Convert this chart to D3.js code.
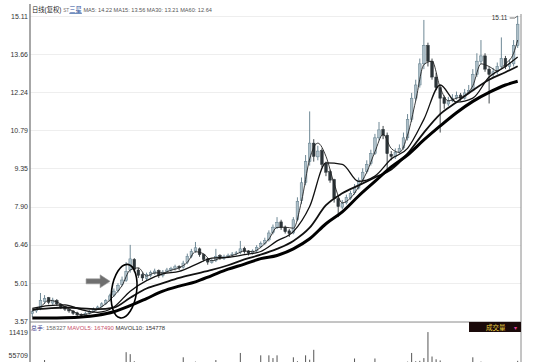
<!DOCTYPE html>
<html lang="zh">
<head>
<meta charset="UTF-8">
<title>ST三星 日线(复权)</title>
<script src="https://d3js.org/d3.v7.min.js"></script>
<style>
  body { margin: 0; background: #fff; }
  svg { display: block; font-family: "Liberation Sans", Arial, "Noto Sans CJK SC", sans-serif; }
  .grid line { stroke: #eeeeee; }
  .frame { stroke: #8a8a8a; }
  .y-axis text { font-size: 7px; fill: #333; }
</style>
</head>
<body>
<div id="chart"></div>
<script>
// daily candles, left to right
const opens = [3.85,3.95,4.05,4.30,4.45,4.25,4.35,4.20,4.12,4.00,3.95,3.88,3.82,3.78,3.88,3.94,4.04,4.12,4.24,4.36,
  4.55,4.72,4.95,5.10,5.50,5.90,5.50,5.32,5.18,5.30,5.38,5.48,5.30,5.44,5.50,5.56,5.64,5.60,5.78,6.02,
  6.22,6.30,6.08,5.92,5.78,5.85,6.05,5.94,6.00,6.08,6.12,6.16,6.32,6.22,6.12,6.22,6.38,6.50,6.64,6.92,
  7.10,7.32,7.12,6.98,6.90,7.42,8.12,8.82,9.60,10.30,9.78,10.02,9.52,9.22,8.92,8.20,7.88,8.04,8.22,8.42,
  8.60,8.92,9.22,9.52,9.90,10.50,10.82,10.60,9.88,9.78,9.96,10.12,10.50,11.20,12.00,12.50,13.30,14.00,13.40,12.80,
  12.40,12.02,11.78,11.92,12.02,12.12,12.00,12.22,12.30,12.90,13.40,13.60,13.10,12.90,13.00,13.20,13.50,13.20,13.30,14.00];
const highs = [4.00,4.10,4.63,4.55,4.48,4.45,4.40,4.25,4.15,4.05,3.98,3.92,3.86,3.92,3.98,4.08,4.15,4.28,4.40,4.60,
  4.80,5.00,5.25,5.80,6.45,5.95,5.58,5.40,5.40,5.48,5.55,5.52,5.50,5.58,5.62,5.70,5.68,5.85,6.12,6.30,
  6.56,6.35,6.12,5.95,5.92,6.30,6.10,6.08,6.12,6.18,6.22,6.60,6.38,6.25,6.28,6.44,6.58,6.72,7.00,7.22,
  7.50,7.40,7.18,7.05,7.50,8.25,9.00,9.85,11.50,10.45,10.20,10.10,9.60,9.30,8.95,8.30,8.15,8.35,8.50,8.75,
  9.00,9.35,9.65,10.05,10.65,11.10,10.95,10.70,10.00,10.10,10.25,10.70,11.40,12.20,12.70,13.50,14.96,14.10,13.50,12.95,
  12.50,12.10,12.05,12.15,12.25,12.20,12.35,12.50,13.10,13.70,14.20,13.70,13.20,13.15,13.35,14.30,13.60,13.45,14.20,15.11];
const lows = [3.72,3.88,3.98,4.22,4.20,4.18,4.15,4.02,3.95,3.88,3.80,3.72,3.70,3.74,3.82,3.90,3.98,4.08,4.18,4.30,
  4.48,4.65,4.88,5.05,5.40,5.42,5.20,5.08,5.10,5.22,5.32,5.20,5.22,5.38,5.42,5.48,5.50,5.55,5.72,5.95,
  6.15,6.00,5.82,5.70,5.74,5.80,5.88,5.88,5.95,6.00,6.05,6.10,6.12,6.05,6.08,6.15,6.32,6.45,6.58,6.85,
  7.05,7.02,6.88,6.75,6.85,7.35,8.00,8.70,9.45,9.60,9.65,9.40,9.05,8.80,8.05,7.50,7.80,7.98,8.15,8.35,
  8.55,8.85,9.15,9.45,9.85,10.40,10.45,9.30,9.65,9.70,9.90,10.05,10.40,11.10,11.90,12.40,13.10,13.20,12.70,12.30,
  10.70,11.60,11.70,11.85,11.95,11.90,11.95,12.15,12.25,12.80,13.30,13.00,11.80,12.80,12.90,13.10,13.10,13.10,13.20,13.90];
const closes = [3.92,4.02,4.35,4.42,4.28,4.36,4.22,4.10,4.02,3.95,3.86,3.80,3.78,3.86,3.92,4.02,4.10,4.22,4.34,4.52,
  4.70,4.92,5.12,5.45,5.92,5.52,5.30,5.20,5.32,5.40,5.46,5.30,5.42,5.50,5.55,5.62,5.58,5.76,6.02,6.20,
  6.34,6.08,5.90,5.80,5.86,6.02,5.95,6.00,6.06,6.10,6.15,6.30,6.20,6.14,6.22,6.36,6.50,6.62,6.90,7.12,
  7.30,7.10,6.95,6.88,7.40,8.10,8.80,9.60,10.30,9.80,10.00,9.50,9.20,8.90,8.20,7.90,8.02,8.24,8.40,8.62,
  8.90,9.20,9.50,9.90,10.50,10.80,10.60,9.90,9.80,9.95,10.10,10.50,11.20,12.00,12.50,13.30,14.00,13.40,12.80,12.40,
  12.00,11.80,11.90,12.00,12.10,12.00,12.20,12.30,12.90,13.40,13.60,13.10,12.90,13.00,13.20,13.50,13.20,13.30,14.00,14.80];
const volumes = [22000,26000,35000,43000,30000,24000,21000,19000,18000,17000,16000,15000,17000,19000,21000,23000,26000,28000,31000,34000,
  36000,35000,37000,63000,58000,40000,32000,27000,25000,24000,26000,23000,25000,27000,26000,28000,30000,50000,36000,34000,
  39000,33000,28000,25000,27000,43000,29000,26000,28000,30000,33000,61000,34000,28000,30000,36000,55000,38000,55000,48000,
  55000,36000,31000,33000,50000,40000,37000,55000,44000,69000,37000,33000,31000,29000,35000,37000,30000,28000,32000,47000,
  34000,33000,36000,37000,47000,38000,35000,36000,31000,29000,32000,36000,39000,61000,40000,41000,48000,114000,52000,45000,
  42000,33000,30000,28000,27000,26000,29000,32000,50000,37000,39000,34000,32000,30000,31000,36000,33000,34000,37000,41000];

// moving averages, read at every 4th candle
const maIndex = [0,4,8,12,16,20,24,28,32,36,40,44,48,52,56,60,64,68,72,76,80,84,88,92,96,100,104,108,112,116,119];
const ma15 = [4.05,4.15,4.18,4.00,3.90,4.10,4.70,5.10,5.35,5.45,5.70,5.95,5.98,6.08,6.20,6.60,6.95,7.90,9.55,9.50,
  8.85,9.05,9.70,10.10,11.20,12.50,11.85,12.00,12.80,13.20,13.56];
const ma30 = [4.00,4.05,4.08,4.05,4.02,4.08,4.45,4.80,5.00,5.20,5.35,5.50,5.68,5.90,6.08,6.30,6.60,7.10,7.95,8.40,
  8.70,9.00,9.30,9.90,10.70,11.40,11.85,12.30,12.70,12.98,13.21];
const ma60 = [3.68,3.68,3.69,3.72,3.79,3.92,4.15,4.42,4.70,4.89,5.05,5.29,5.53,5.72,5.93,6.05,6.30,6.68,7.25,7.70,
  8.30,8.85,9.40,9.85,10.42,10.95,11.45,11.88,12.22,12.50,12.64];
// MA5, read at every 2nd candle
const ma5Index = [0,2,4,6,8,10,12,14,16,18,20,22,24,26,28,30,32,34,36,38,40,42,44,46,48,50,52,54,56,58,
  60,62,64,66,68,70,72,74,76,78,80,82,84,86,88,90,92,94,96,98,100,102,104,106,108,110,112,114,116,118,119];
const ma5 = [3.95,4.10,4.35,4.29,4.11,3.94,3.81,3.85,4.01,4.22,4.52,4.91,5.50,5.58,5.27,5.39,5.39,5.49,5.58,5.79,
  6.19,6.11,5.85,5.94,6.00,6.10,6.22,6.19,6.36,6.67,7.11,7.12,7.08,8.10,9.70,10.30,9.80,8.77,8.04,8.22,
  8.64,9.20,9.97,10.63,10.10,9.95,10.60,11.90,13.27,13.40,12.40,11.90,12.00,12.10,12.47,13.30,13.20,13.03,13.30,13.70,14.20];

const priceTicks = [3.57, 5.01, 6.46, 7.90, 9.35, 10.79, 12.24, 13.66, 15.11];
const volTickLabels = [["11419", 114190], ["55709", 55709]];

const width = 550, height = 362;
const left = 30, right = 521, priceBottom = 322;

const svg = d3.select("#chart").append("svg")
  .attr("width", width)
  .attr("height", height);

const x = d3.scaleBand().domain(d3.range(closes.length)).range([left + 1, right - 2]).paddingInner(0.35);
const xc = i => x(i) + x.bandwidth() / 2;
const y = d3.scaleLinear().domain([3.57, 15.11]).range([321, 16]);
const yVol = d3.scaleLinear().domain([0, 114190]).range([377, 332]);

// grid
svg.append("g").attr("class", "grid")
  .selectAll("line").data(priceTicks.slice(1)).join("line")
  .attr("x1", left).attr("x2", right)
  .attr("y1", d => Math.round(y(d)) + 0.5).attr("y2", d => Math.round(y(d)) + 0.5);

// price axis labels
const yAxis = svg.append("g").attr("class", "y-axis")
  .attr("transform", `translate(${left - 1},0)`)
  .call(d3.axisLeft(y).tickValues(priceTicks).tickSize(0).tickPadding(1).tickFormat(d3.format(".2f")));
yAxis.select(".domain").remove();

// candles
const candles = svg.append("g").selectAll("g").data(closes.map((c, i) => i)).join("g");
candles.append("line")
  .attr("x1", i => xc(i)).attr("x2", i => xc(i))
  .attr("y1", i => y(highs[i])).attr("y2", i => y(lows[i]))
  .attr("stroke", i => closes[i] >= opens[i] ? "#5f7c8a" : "#2c3438")
  .attr("stroke-width", 0.9);
candles.append("rect")
  .attr("x", i => x(i))
  .attr("width", x.bandwidth())
  .attr("y", i => y(Math.max(opens[i], closes[i])))
  .attr("height", i => Math.max(0.8, Math.abs(y(opens[i]) - y(closes[i]))))
  .attr("fill", i => closes[i] >= opens[i] ? "#aebfc8" : "#2c3438")
  .attr("stroke", i => closes[i] >= opens[i] ? "#5f7c8a" : "#2c3438")
  .attr("stroke-width", 0.5);

// moving average lines
const maLine = (idx) => d3.line()
  .x((d, k) => xc(idx[k]))
  .y(d => y(d))
  .curve(d3.curveMonotoneX);

svg.append("path").datum(ma5).attr("d", maLine(ma5Index))
  .attr("fill", "none").attr("stroke", "#222").attr("stroke-width", 0.9);
svg.append("path").datum(ma15).attr("d", maLine(maIndex))
  .attr("fill", "none").attr("stroke", "#111").attr("stroke-width", 1.3);
svg.append("path").datum(ma30).attr("d", maLine(maIndex))
  .attr("fill", "none").attr("stroke", "#111").attr("stroke-width", 1.8);
svg.append("path").datum(ma60).attr("d", maLine(maIndex))
  .attr("fill", "none").attr("stroke", "#000").attr("stroke-width", 3);

// annotation: ellipse around the breakout, arrow pointing at it
const ex = xc(22) + x.step() / 2, ey = y(4.7);
svg.append("ellipse")
  .attr("cx", ex).attr("cy", ey).attr("rx", 12.5).attr("ry", 27)
  .attr("transform", `rotate(8,${ex},${ey})`)
  .attr("fill", "none").attr("stroke", "#000").attr("stroke-width", 1.6);
const ay = y(5.07), tip = ex - 14;
svg.append("path")
  .attr("d", `M${tip - 24},${ay - 2.5}L${tip - 10},${ay - 2.5}L${tip - 10},${ay - 6.5}L${tip},${ay}L${tip - 10},${ay + 6.5}L${tip - 10},${ay + 2.5}L${tip - 24},${ay + 2.5}Z`)
  .attr("fill", "#6f6f6f").attr("stroke", "#999").attr("stroke-width", 0.6);

// high marker
svg.append("text").attr("x", xc(119) - 26).attr("y", y(15.11) + 4)
  .attr("font-size", 6.5).attr("fill", "#333").text("15.11");
svg.append("path")
  .attr("d", `M${xc(119) - 8},${y(15.11) + 2}L${xc(119) - 3},${y(15.11) + 2}L${xc(119)},${y(15.11)}`)
  .attr("fill", "none").attr("stroke", "#333").attr("stroke-width", 0.7);

// volume bars
svg.append("g").selectAll("rect").data(volumes).join("rect")
  .attr("x", (d, i) => xc(i) - 0.5)
  .attr("width", 1)
  .attr("y", d => yVol(d))
  .attr("height", d => yVol(0) - yVol(d))
  .attr("fill", "#555");

svg.append("g").selectAll("text").data(volTickLabels).join("text")
  .attr("x", left - 2).attr("y", d => yVol(d[1]) + 2.5)
  .attr("text-anchor", "end").attr("font-size", 7).attr("fill", "#333")
  .text(d => d[0]);

// frame
svg.append("line").attr("class", "frame").attr("x1", left).attr("x2", left).attr("y1", 4).attr("y2", height).attr("stroke-width", 1.5);
svg.append("line").attr("class", "frame").attr("x1", right).attr("x2", right).attr("y1", 14).attr("y2", height);
svg.append("line").attr("class", "frame").attr("x1", left).attr("x2", right).attr("y1", priceBottom).attr("y2", priceBottom);

// headers
const head = svg.append("text").attr("x", left + 2).attr("y", 12).attr("font-size", 5.6);
head.append("tspan").attr("fill", "#222").attr("font-size", 6.3).text("日线(复权) ");
head.append("tspan").attr("fill", "#777").attr("font-size", 4.8).text("ST");
head.append("tspan").attr("fill", "#1f4f9a").attr("font-size", 6.3).attr("text-decoration", "underline").text("三星");
head.append("tspan").attr("fill", "#555").text(" MA5: 14.22 MA15: 13.56 MA30: 13.21 MA60: 12.64");

const vhead = svg.append("text").attr("x", left + 1).attr("y", 329.5).attr("font-size", 5.9);
vhead.append("tspan").attr("fill", "#3a3a8a").text("总手: ");
vhead.append("tspan").attr("fill", "#666").text("158327  ");
vhead.append("tspan").attr("fill", "#c8506a").text("MAVOL5: 167490  ");
vhead.append("tspan").attr("fill", "#333").text("MAVOL10: 154778");

svg.append("rect").attr("x", 469).attr("y", priceBottom).attr("width", right - 469).attr("height", 10).attr("fill", "#1a0a0a");
svg.append("text").attr("x", 486).attr("y", priceBottom + 7.5).attr("font-size", 6.5).attr("fill", "#e8d040").text("成交量");
svg.append("text").attr("x", 514).attr("y", priceBottom + 7.5).attr("font-size", 6).attr("fill", "#e0409a").text("▾");
</script>
</body>
</html>
